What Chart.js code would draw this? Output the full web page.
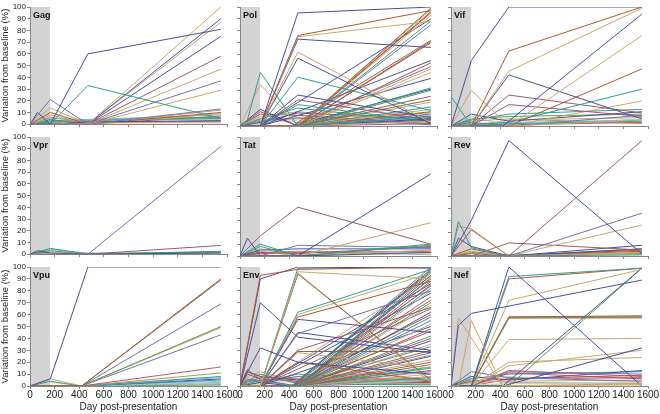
<!DOCTYPE html>
<html>
<head>
<meta charset="utf-8">
<script src="https://cdn.jsdelivr.net/npm/chart.js@4/dist/chart.umd.min.js"></script>
<style>
html,body{margin:0;padding:0;background:#fff;width:660px;height:414px;overflow:hidden;}
canvas{position:absolute;}
</style>
</head>
<body>
<script>
// ---- DATA ----
const days = [0, 60, 165, 420, 470, 1550];
const panelNames = ['Gag','Pol','Vif','Vpr','Tat','Rev','Vpu','Env','Nef'];
const xTickValues = [0,200,400,600,800,1000,1200,1400,1600];
const yTickValues = [0,10,20,30,40,50,60,70,80,90,100];
const bandEndDay = 162;

const gag = [
 [0,null,0,null,60,81],[0,null,0,null,33,5],[0,null,null,null,0,100],[0,null,null,null,0,90],
 [0,null,null,null,0,87],[0,null,null,null,0,75],[0,null,null,null,0,58],[0,null,null,null,0,47],
 [0,null,null,null,0,37],[0,null,null,null,0,29],[0,null,21,null,0,13],[0,10,0,null,2,3],
 [0,null,14,null,0,12],[0,null,10,null,0,10],[0,null,8,null,0,9],[0,null,5,null,4,8],
 [0,null,3,null,4,6],[0,null,2,null,3,5],[0,null,0,null,4,4],[0,null,1,null,2,2],
 [0,null,0,null,1,1],[0,null,4,null,0,7],[0,null,6,null,1,3]
];
const gagColors = 'BGTBTBMTPTPBTRTLGVSMYNO';

const pol = [
 [0,null,0,null,95,100],[0,null,0,null,76,97],[0,null,0,null,75,88],[0,null,0,null,73,66],
 [0,null,0,null,62,3],[0,null,0,null,57,2],[0,null,0,null,41,13],[0,5,45,null,0,8],
 [0,null,35,null,0,4],[0,null,14,null,0,6],[0,null,0,null,26,7],[0,null,0,null,22,5],
 [0,null,0,null,18,3],[0,null,null,null,0,99],[0,null,null,null,0,98],[0,null,null,null,0,96],
 [0,null,null,null,0,95],[0,null,null,null,0,93],[0,null,0,null,null,90],[0,null,null,null,0,88],
 [0,null,null,null,0,85],[0,null,null,0,null,72],[0,null,null,null,0,71],[0,null,null,null,0,70],
 [0,null,0,null,null,55],[0,null,null,null,0,53],[0,null,null,0,null,50],[0,null,null,null,0,48],
 [0,null,null,null,0,45],[0,null,0,null,null,40],[0,null,null,null,0,32],[0,null,null,0,null,31],
 [0,null,null,null,0,30],[0,null,null,null,0,25],[0,null,null,null,0,22],[0,null,null,null,0,20],
 [0,null,null,null,0,16],[0,null,null,null,0,14],[0,null,null,null,0,12],[0,null,null,null,0,10],
 [0,null,null,null,0,8],[0,null,null,null,0,6],[0,null,null,null,0,5],[0,null,8,null,12,4],
 [0,null,6,null,15,3],[0,null,10,null,9,2],[0,null,4,null,7,1],[0,null,3,null,11,6],
 [0,null,12,null,0,2],[0,null,2,null,5,4],[0,null,7,null,3,9],[0,null,5,null,6,11]
];
const polColors = 'BRTBTBGGTBBMGRTNRTBGPRNMBRPTTBGBVMNTGTRPVLBTGRPBMYSO';

const vif = [
 [0,null,55,null,100,100],[0,null,0,null,63,100],[0,null,0,null,46,99],[0,null,null,0,null,94],
 [0,null,null,null,0,76],[0,null,0,null,43,6],[0,null,null,null,0,48],[0,null,null,null,3,31],
 [0,null,30,null,0,5],[25,null,0,null,2,4],[0,null,0,null,26,11],[0,null,0,null,18,8],
 [0,null,null,null,0,21],[0,null,5,null,10,14],[0,null,10,null,4,12],[0,null,6,null,8,10],
 [0,null,3,null,0,9],[0,null,0,null,5,7],[0,null,2,null,3,5],[0,null,0,null,1,3],
 [0,null,4,null,6,2],[0,null,8,null,0,6]
];
const vifColors = 'BRTBTBRGTGMMTGBVPTLKOS';

const vpr = [
 [0,null,null,null,0,92],[0,null,null,null,0,7.5],[0,3,1,null,0,1],[0,null,5,null,0,2.5],
 [0,null,3,null,0,2],[0,null,2,null,0.5,1.5],[0,null,4,null,1,1],[0,null,1,null,0,0.5]
];
const vprColors = 'PMBGVTLY';

const tat = [
 [0,15,0,null,0,3],[0,null,17,null,41,10],[0,null,null,null,0,69],[0,null,null,null,0,28],
 [0,null,10,null,0,10],[0,null,8,null,0,9],[0,null,0,null,9,7],[0,null,5,null,6,6],
 [0,null,3,null,2,8],[0,null,4,null,0,5],[0,null,2,null,3,4],[0,null,6,null,1,3],
 [0,null,1,null,0,2],[0,null,3,null,4,1]
];
const tatColors = 'BMBTGVPBRTKLYO';

const rev = [
 [0,null,30,null,97,2],[0,null,null,null,0,97],[0,null,null,null,0,36],[0,null,null,null,0,26],
 [0,29,7,null,0,1],[0,25,23,null,0,3],[0,null,22,null,0,4],[0,null,0,null,11,5],
 [0,null,null,null,0,9],[0,15,8,null,0,6],[0,null,6,null,0,5],[0,null,4,null,0,3],
 [0,null,3,null,1,2],[0,null,2,null,0,6],[0,null,5,null,0,1]
];
const revColors = 'BMPTGTRMBBRTVNY';

const vpu = [
 [0,null,6,null,100,100],[0,null,null,0,null,89],[0,null,null,0,null,90],[0,null,null,0,null,69],
 [0,null,null,0,null,50],[0,null,null,0,null,49],[0,null,null,0,null,43],[0,null,null,0,null,16],
 [0,null,null,0,null,11],[0,null,null,0,null,8],[0,null,null,0,null,7],[0,null,null,0,null,6],
 [0,null,null,0,null,5],[0,null,null,0,null,4],[0,null,null,0,null,3],[0,null,6,0,null,2],
 [0,null,4,0,null,1],[0,null,3,0,null,0.5]
];
const vpuColors = 'BNRPVTPKOGLBGSLTGY';

const env = [
 [0,null,93,null,98,100],[0,null,90,null,100,99],[0,null,70,null,41,28],[0,null,32,null,20,10],
 [0,null,0,null,96,90],[0,null,0,null,94,5],[0,null,0,null,95,3],[0,null,0,null,99,100],
 [0,null,0,null,62,98],[0,null,0,null,60,95],[0,null,0,null,58,88],[0,null,0,null,56,45],
 [0,null,0,null,44,80],[0,null,0,null,45,30],[0,null,0,null,30,66],[0,null,0,null,29,29],
 [0,null,0,null,28,15],[0,null,0,null,20,4],[0,null,5,0,null,100],[0,null,3,0,null,98],
 [0,null,0,0,null,97],[0,null,0,0,null,96],[0,null,null,null,0,95],[0,null,null,null,0,93],
 [0,null,0,null,null,92],[0,null,null,null,0,91],[0,null,null,0,null,90],[0,null,null,null,0,88],
 [0,null,0,null,null,86],[0,null,null,null,0,85],[0,null,null,0,null,84],[0,null,null,null,0,82],
 [0,null,null,null,0,80],[0,null,0,null,null,78],[0,null,null,null,0,75],[0,null,null,0,null,72],
 [0,null,null,null,0,70],[0,null,null,null,0,68],[0,null,0,null,null,65],[0,null,null,null,0,62],
 [0,null,null,0,null,60],[0,null,null,null,0,58],[0,null,null,null,0,55],[0,null,null,null,0,52],
 [0,null,0,null,null,50],[0,null,null,null,0,48],[0,null,null,0,null,46],[0,null,null,null,0,42],
 [0,null,null,null,0,40],[0,null,null,null,0,38],[0,null,null,null,0,35],[0,null,null,0,null,33],
 [0,null,null,null,0,30],[0,null,null,null,0,28],[0,null,null,null,0,26],[0,null,null,null,0,25],
 [0,null,null,null,0,22],[0,null,null,null,0,20],[0,null,null,null,0,18],[0,null,null,null,0,16],
 [0,null,null,null,0,15],[0,null,null,null,0,13],[0,null,null,null,0,12],[0,null,null,null,0,10],
 [0,null,null,null,0,8],[0,null,null,null,0,7],[0,null,null,null,0,6],[0,null,null,null,0,5],
 [0,12,8,null,5,4],[0,10,6,null,4,3],[0,8,12,null,3,2],[0,6,4,null,8,12],
 [0,4,10,null,2,1],[0,14,5,null,0,3],[0,3,7,null,6,5],[0,5,3,null,10,4],
 [0,2,9,null,7,6],[0,null,4,null,3,2],[0,null,2,null,1,1]
];
const envColors = 'RBBBTNTGGTRBPBMNTRGBPRVBTNGMBRPGTBKNVTMBRGPTBNKVMBTGRPOBTMNGVKLTOGLSBRTPGMKVYSY';

const nef = [
 [0,51,61,null,null,89],[0,57,null,0,null,1],[0,0,55,0,null,2],[0,null,0,null,100,0],
 [0,null,0,null,92,99],[0,null,0,null,90,99],[0,null,0,null,72,98],[0,null,null,0,null,99],
 [0,null,null,null,0,99],[0,null,0,null,58,58],[0,null,0,null,58,59],[0,null,0,null,57,57],
 [0,null,0,null,57,58],[0,null,0,null,39,40],[0,null,null,0,null,32],[0,null,0,null,20,24],
 [0,null,0,null,17,30],[0,null,0,null,13,8],[0,null,0,null,12,10],[0,null,0,null,11,6],
 [0,null,12,null,7,4],[0,null,8,null,5,13],[0,null,6,null,10,12],[0,null,4,null,6,9],
 [0,null,3,null,4,5],[0,null,2,null,8,3],[0,null,5,null,3,2],[0,null,1,null,2,1],
 [0,null,0,null,6,7],[20,null,0,null,2,3]
];
const nefColors = 'BTTBGRTBVNNTNTBTTKPMPBGRTYLYKY';

const panelSeries = [gag,pol,vif,vpr,tat,rev,vpu,env,nef];
const panelColors = [gagColors,polColors,vifColors,vprColors,tatColors,revColors,vpuColors,envColors,nefColors];

// ---- STYLE ----
const palette = {
 B:'#4a4f9c', R:'#b4562e', T:'#c9a66b', G:'#2e9e96', M:'#9a5a6e', P:'#7470b0',
 N:'#8a6a48', V:'#5a9a50', L:'#88b4d8', K:'#c0507a', O:'#a8a050', Y:'#e6d4a0', S:'#a8d0d8'
};
const fallback = Object.values(palette);
const FONT = '"Liberation Sans", Arial, sans-serif';
const colLeft = [30, 240, 451];
const rowTop = [7, 137, 267];
const plotW = 197, plotH = 119;

const bandPlugin = {
  id: 'band',
  beforeDraw(chart, args, opts) {
    const {ctx, scales:{x, y}} = chart;
    const x0 = x.getPixelForValue(0), x1 = x.getPixelForValue(bandEndDay);
    const yTop = y.getPixelForValue(100), yBot = y.getPixelForValue(0);
    ctx.save();
    ctx.fillStyle = '#d3d3d3';
    ctx.fillRect(x0, yTop, x1 - x0, yBot - yTop);
    ctx.restore();
  },
  afterDatasetsDraw(chart, args, opts) {
    const {ctx, scales:{x, y}} = chart;
    ctx.save();
    ctx.fillStyle = '#111';
    ctx.font = 'bold 9px ' + FONT;
    ctx.textBaseline = 'middle';
    ctx.fillText(opts.label, x.getPixelForValue(0) + 3, y.getPixelForValue(100) + 8.5);
    ctx.restore();
  }
};

panelSeries.forEach((series, idx) => {
  const r = Math.floor(idx / 3), c = idx % 3;
  const yW = c === 0 ? 30 : 4;
  const xH = r === 2 ? 28 : 4;
  const padT = 6, padR = c === 2 ? 12 : 13;
  const cv = document.createElement('canvas');
  cv.width = yW + plotW + padR;
  cv.height = padT + plotH + xH;
  cv.style.left = (colLeft[c] - yW) + 'px';
  cv.style.top = (rowTop[r] - padT) + 'px';
  document.body.appendChild(cv);
  const cols = panelColors[idx];
  const datasets = series.map((s, i) => ({
    data: days.map((d, j) => ({x: d, y: s[j]})).filter(p => p.y !== null),
    borderColor: palette[cols[i]] || fallback[i % fallback.length],
    borderWidth: 1,
    pointRadius: 0,
    fill: false,
    tension: 0
  }));
  new Chart(cv, {
    type: 'line',
    data: {datasets},
    plugins: [bandPlugin],
    options: {
      responsive: false,
      animation: false,
      devicePixelRatio: 1,
      layout: {padding: {top: padT, right: padR, left: 0, bottom: 0}},
      plugins: {legend: {display: false}, tooltip: {enabled: false}, band: {label: panelNames[idx]}},
      scales: {
        x: {
          type: 'linear', min: 0, max: 1600,
          afterBuildTicks: s => { s.ticks = xTickValues.map(v => ({value: v})); },
          afterFit: s => { s.height = xH; },
          ticks: {display: r === 2, color: '#222', font: {family: FONT, size: 10}, padding: 0, maxRotation: 0, autoSkip: false, callback: v => String(v)},
          grid: {drawOnChartArea: false, drawTicks: true, tickLength: 3, color: '#888'},
          border: {color: '#888'},
          title: {display: r === 2, text: 'Day post-presentation', color: '#222', font: {family: FONT, size: 10}, padding: {top: 0, bottom: 1}}
        },
        y: {
          min: 0, max: 100,
          afterBuildTicks: s => { s.ticks = yTickValues.map(v => ({value: v})); },
          afterFit: s => { s.width = yW; },
          ticks: {display: c === 0, color: '#222', font: {family: FONT, size: 8}, padding: 1, autoSkip: false, callback: v => String(v)},
          grid: {drawOnChartArea: false, drawTicks: true, tickLength: 3, color: '#888'},
          border: {color: '#888'},
          title: {display: c === 0, text: 'Variation from baseline (%)', color: '#222', font: {family: FONT, size: 9.5}, padding: 0}
        }
      }
    }
  });
});
</script>
</body>
</html>
